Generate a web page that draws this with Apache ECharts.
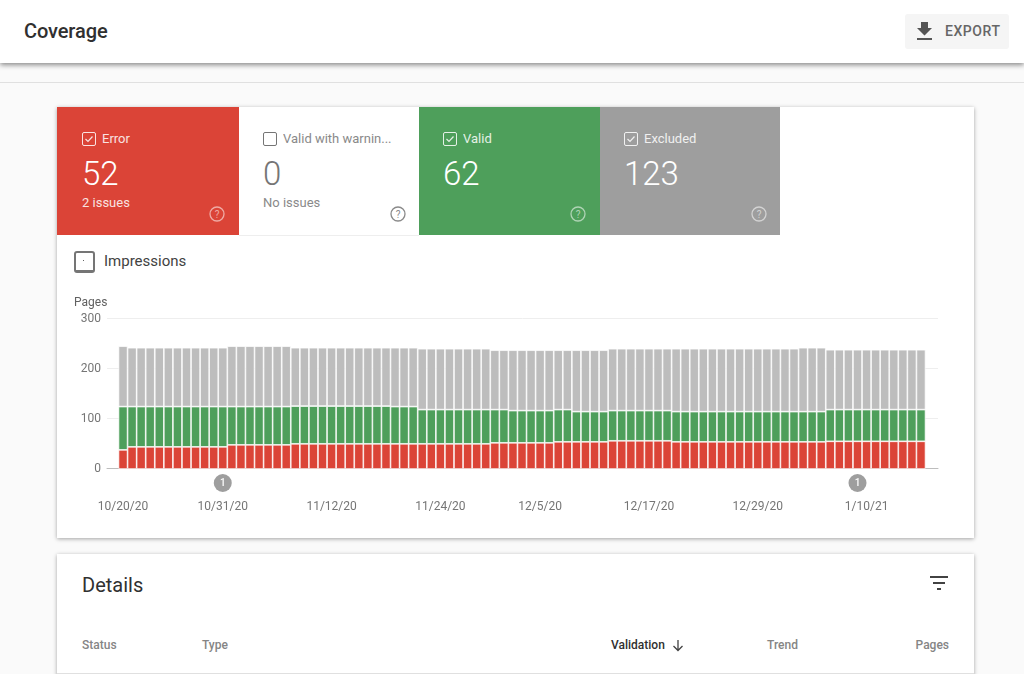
<!DOCTYPE html>
<html>
<head>
<meta charset="utf-8">
<title>Coverage</title>
<script src="https://cdn.jsdelivr.net/npm/echarts@6/dist/echarts.min.js"></script>
<style>
  html, body { margin: 0; padding: 0; width: 1024px; height: 674px; overflow: hidden; background: #fafafa; font-family: Roboto, sans-serif; }
  .abs { position: absolute; white-space: nowrap; }
  #header { position: absolute; left: 0; top: 0; width: 1024px; height: 63px; background: #fff; box-shadow: 0 2px 5px rgba(0,0,0,.45); }
  #rule { position: absolute; left: 0; top: 82px; width: 1024px; height: 1px; background: #e0e0e0; }
  .card { position: absolute; left: 57px; width: 917px; background: #fff; box-shadow: 0 1px 4px rgba(0,0,0,.35); }
  .tab { position: absolute; top: 0; height: 128px; color: #fff; }
  .tab svg { position: absolute; }
  .tab .name { position: absolute; left: 45px; top: 24px; font-size: 13px; line-height: 16px; opacity: .85; white-space: nowrap; }
  .tab .num { position: absolute; left: 25px; top: 48px; font-size: 33px; line-height: 38px; font-weight: 300; }
  .tab .sub { position: absolute; left: 25px; top: 88px; font-size: 13px; line-height: 16px; opacity: .85; white-space: nowrap; }
  .head { font-size: 12px; line-height: 15px; font-weight: 500; color: #858585; }
  #chart { position: absolute; left: 0; top: 173px; width: 917px; height: 258px; }
</style>
</head>
<body>
<div id="header"></div>
<div id="rule"></div>
<div class="abs" style="left:24px;top:19px;font-size:20px;line-height:24px;font-weight:500;letter-spacing:-.1px;color:#303030">Coverage</div>
<div class="abs" style="left:905px;top:14px;width:104px;height:35px;background:#f5f5f5;border-radius:3px"></div>
<svg class="abs" style="left:915px;top:20px" width="20" height="22" viewBox="0 0 20 22"><path d="M6 2h7v6h4l-7.500 7.500L2 8h4z M2 18h15v2H2z" fill="#555"/></svg>
<div class="abs" style="left:945px;top:23px;font-size:14px;line-height:17px;font-weight:500;letter-spacing:.55px;color:#666">EXPORT</div>

<div class="card" style="top:107px;height:431px">
  <div class="tab" id="tab0" style="left:0;width:182px;background:#db4437"></div>
  <div class="tab" id="tab1" style="left:182px;width:180px;background:#fff;color:#757575"></div>
  <div class="tab" id="tab2" style="left:362px;width:181px;background:#4e9f5b"></div>
  <div class="tab" id="tab3" style="left:543px;width:180px;background:#9e9e9e"></div>
  <div class="abs" style="left:182px;top:128px;width:180px;height:1px;background:#eeeeee"></div>
  <div class="abs" style="left:17px;top:144px;width:17px;height:17px;border:2px solid #757575;border-bottom-width:3px;border-radius:3px"></div>
  <div class="abs" style="left:26px;top:153px;width:1px;height:1px;background:#616161"></div>
  <div class="abs" style="left:47px;top:145px;font-size:15px;line-height:19px;color:#424242">Impressions</div>
  <div id="chart"></div>
</div>

<div class="card" style="top:554px;height:140px">
  <div class="abs" style="left:25px;top:19px;font-size:20px;line-height:24px;color:#303030">Details</div>
  <svg class="abs" style="left:873px;top:22px" width="18" height="14" viewBox="0 0 18 14"><path d="M0 0h18v2H0z M3 6h12v2H3z M7 12h4v2H7z" fill="#424242"/></svg>
  <div class="abs head" style="left:25px;top:84px">Status</div>
  <div class="abs head" style="left:145px;top:84px">Type</div>
  <div class="abs head" style="left:554px;top:84px;color:#303030">Validation</div>
  <svg class="abs" style="left:615px;top:85px" width="12" height="13" viewBox="0 0 12 13"><path d="M6 1v10.500M1.500 7L6 11.500 10.500 7" fill="none" stroke="#424242" stroke-width="1.300"/></svg>
  <div class="abs head" style="left:710px;top:84px">Trend</div>
  <div class="abs head" style="right:25px;top:84px">Pages</div>
  <div class="abs" style="left:0;top:119px;width:917px;height:1px;background:#e0e0e0"></div>
</div>

<script>
const tabNames = ['Error', 'Valid with warnin...', 'Valid', 'Excluded'];
const tabTotals = ['52', '0', '62', '123'];
const tabNotes = ['2 issues', 'No issues', '', ''];
const tabChecked = [true, false, true, true];

const dates = [
  '10/20/20','10/21/20','10/22/20','10/23/20','10/24/20','10/25/20','10/26/20','10/27/20','10/28/20','10/29/20','10/30/20','10/31/20',
  '11/1/20','11/2/20','11/3/20','11/4/20','11/5/20','11/6/20','11/7/20','11/8/20','11/9/20','11/10/20','11/11/20','11/12/20',
  '11/13/20','11/14/20','11/15/20','11/16/20','11/17/20','11/18/20','11/19/20','11/20/20','11/21/20','11/22/20','11/23/20','11/24/20',
  '11/25/20','11/26/20','11/27/20','11/28/20','11/29/20','11/30/20','12/1/20','12/2/20','12/3/20','12/4/20','12/5/20','12/6/20',
  '12/7/20','12/8/20','12/9/20','12/10/20','12/11/20','12/12/20','12/13/20','12/14/20','12/15/20','12/16/20','12/17/20','12/18/20',
  '12/19/20','12/20/20','12/21/20','12/22/20','12/23/20','12/24/20','12/25/20','12/26/20','12/27/20','12/28/20','12/29/20','12/30/20',
  '12/31/20','1/1/21','1/2/21','1/3/21','1/4/21','1/5/21','1/6/21','1/7/21','1/8/21','1/9/21','1/10/21','1/11/21',
  '1/12/21','1/13/21','1/14/21','1/15/21','1/16/21'
];
const tickDates = ['10/20/20','10/31/20','11/12/20','11/24/20','12/5/20','12/17/20','12/29/20','1/10/21'];
const annotationDates = ['10/31/20','1/9/21'];

const errorPages = [
  38,
  44,44,44,44,44,44,44,44,44,44,44,
  48,48,48,48,48,48,48,
  50,50,50,50,50,50,50,50,50,50,50,50,50,50,50,50,50,50,50,50,50,50,
  52,52,52,52,52,52,52,
  54,54,54,54,54,54,
  56,56,56,56,56,56,56,
  54,54,54,54,54,54,54,54,54,54,54,54,54,54,54,54,54,
  55,55,55,55,55,55,55,55,55,55,55
];
const validPages = [
  86,
  80,80,80,80,80,80,80,80,80,80,80,
  76,76,76,76,76,76,76,
  75,75,75,75,75,75,75,75,75,75,75,
  74,74,74,
  68,68,68,68,68,68,68,68,
  66,66,
  64,64,64,64,64,
  64,64,
  60,60,60,60,
  60,60,60,60,60,60,60,
  60,60,60,60,60,60,60,60,60,60,60,60,60,60,60,60,60,
  63,63,63,63,63,63,63,63,63,63,63
];
const excludedPages = [
  120,
  117,117,117,117,117,117,117,117,117,117,117,
  120,120,120,120,120,120,120,
  116,116,116,116,116,116,116,116,116,116,116,
  117,117,117,
  121,121,121,121,121,121,121,121,
  118,118,
  120,120,120,120,120,
  118,118,
  122,122,122,122,
  123,123,123,123,123,123,123,
  125,125,125,125,125,125,125,125,125,125,125,125,125,125,
  127,127,127,
  119,119,119,119,119,119,119,119,119,119,119
];

// the four status tabs on top of the chart
tabNames.forEach(function (name, i) {
  const light = i !== 1;
  const line = light ? 'rgba(255,255,255,.85)' : '#757575';
  const help = light ? 'rgba(255,255,255,.55)' : '#8a8a8a';
  const tick = tabChecked[i] ? '<path d="M3.500 7l2.500 2.500 4.500-5" fill="none" stroke="' + line + '" stroke-width="1.200"/>' : '';
  // tabs after the first sit one pixel further left inside their colour block
  const inset = i === 0 ? 0 : -1;
  document.getElementById('tab' + i).innerHTML =
    '<div style="position:absolute;left:' + inset + 'px;top:0">' +
    '<svg style="left:25px;top:25px" width="14" height="14"><rect x=".5" y=".5" width="13" height="13" rx="1.500" fill="none" stroke="' + line + '"/>' + tick + '</svg>' +
    '<div class="name">' + name + '</div>' +
    '<div class="num">' + tabTotals[i] + '</div>' +
    '<div class="sub">' + tabNotes[i] + '</div>' +
    '<svg style="left:152px;top:99px" width="16" height="16"><circle cx="8" cy="8" r="7" fill="none" stroke="' + help + '" stroke-width="1.300"/>' +
    '<text x="8" y="11.500" font-size="10" font-family="Roboto" text-anchor="middle" fill="' + help + '">?</text></svg>' +
    '</div>';
});

const chart = echarts.init(document.getElementById('chart'));

function barSeries(name, values, color) {
  return {
    name: name,
    type: 'bar',
    xAxisIndex: 1,
    yAxisIndex: 1,
    stack: 'pages',
    barWidth: '100%',
    data: values,
    itemStyle: { color: color, borderColor: '#fff', borderWidth: 0.7 }
  };
}

const errorSeries = barSeries('Error', errorPages, '#db4437');
errorSeries.markPoint = {
  symbol: 'circle',
  symbolSize: 18,
  symbolOffset: [0, 14],
  itemStyle: { color: '#9e9e9e' },
  label: { show: true, formatter: '1', color: '#fff', fontSize: 10, fontFamily: 'Roboto', fontWeight: 500 },
  data: annotationDates.map(function (d) { return { coord: [d, 0] }; })
};

chart.setOption({
  animation: false,
  textStyle: { fontFamily: 'Roboto' },
  grid: [
    { left: 50, top: 38.5, width: 831, height: 150 },
    { left: 61.5, top: 38, width: 807, height: 151 }
  ],
  xAxis: [
    {
      gridIndex: 0,
      type: 'category',
      data: [''],
      axisLine: { lineStyle: { color: '#bdbdbd', width: 1 } },
      axisTick: { show: false },
      axisLabel: { show: false }
    },
    {
      gridIndex: 1,
      type: 'category',
      data: dates,
      axisLine: { show: false },
      axisTick: { show: false },
      axisLabel: {
        margin: 32,
        fontSize: 12,
        color: '#757575',
        interval: function (i, value) { return tickDates.indexOf(value) >= 0; }
      }
    }
  ],
  yAxis: [
    {
      gridIndex: 0,
      type: 'value',
      min: 0,
      max: 300,
      interval: 100,
      name: 'Pages',
      nameLocation: 'end',
      nameGap: 10,
      nameTextStyle: { color: '#616161', fontSize: 12, align: 'left', padding: [0, 0, 0, -33] },
      axisLine: { show: false },
      axisTick: { show: false },
      axisLabel: { margin: 6, fontSize: 12, color: '#757575' },
      splitLine: { lineStyle: { color: '#eeeeee', width: 1 } }
    },
    { gridIndex: 1, type: 'value', min: 0, max: 300, show: false }
  ],
  series: [
    errorSeries,
    barSeries('Valid', validPages, '#4e9f5b'),
    barSeries('Excluded', excludedPages, '#bdbdbd')
  ]
});
</script>
</body>
</html>
